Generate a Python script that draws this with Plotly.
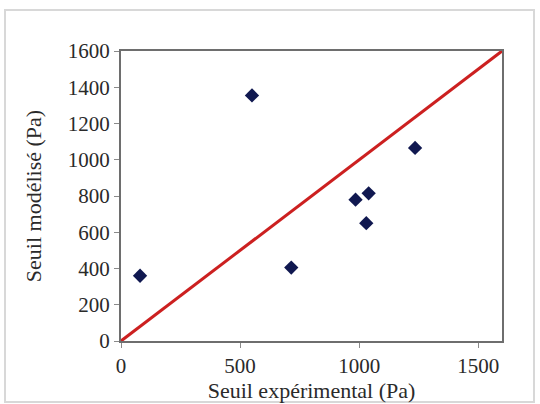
import plotly.graph_objects as go

# Data
seuil_exp = [80, 550, 715, 985, 1040, 1030, 1235]
seuil_mod = [360, 1355, 405, 780, 815, 650, 1065]
line_x = [0, 1600]
line_y = [0, 1600]
x_ticks = [0, 500, 1000, 1500]
y_ticks = [0, 200, 400, 600, 800, 1000, 1200, 1400, 1600]

font_family = "Liberation Serif"

fig = go.Figure()
fig.add_trace(go.Scatter(
    x=line_x, y=line_y, mode="lines",
    line=dict(color="#cc2020", width=3), showlegend=False, hoverinfo="skip"))
fig.add_trace(go.Scatter(
    x=seuil_exp, y=seuil_mod, mode="markers",
    marker=dict(symbol="diamond", size=11, color="#101850"),
    showlegend=False))

L, R, T, B = 121, 38, 51, 63
W, H = 540, 404
pw, ph = W - L - R, H - T - B

fig.add_shape(type="rect", xref="paper", yref="paper",
              x0=(5 - L) / pw, x1=(534 - L) / pw,
              y0=(H - B - 402) / ph, y1=(H - B - 10) / ph,
              line=dict(color="#d8d8d8", width=2), layer="below")

axis_common = dict(
    showgrid=False, zeroline=False, showline=True, mirror=True,
    linecolor="#6e6e6e", linewidth=2,
    ticks="outside", ticklen=5, tickcolor="#8a8a8a",
    tickfont=dict(family=font_family, size=21, color="#2a2a2a"),
)

fig.update_xaxes(range=[0, 1600], tickvals=x_ticks,
                 title=dict(text="Seuil expérimental (Pa)",
                            font=dict(family=font_family, size=22, color="#2a2a2a"),
                            standoff=0),
                 **axis_common)
fig.update_yaxes(range=[0, 1600], tickvals=y_ticks,
                 title=dict(text="Seuil modélisé (Pa)",
                            font=dict(family=font_family, size=22, color="#2a2a2a"),
                            standoff=20),
                 **axis_common)

fig.update_layout(
    width=W, height=H,
    margin=dict(l=L, r=R, t=T, b=B, autoexpand=False),
    plot_bgcolor="white", paper_bgcolor="white",
)

fig.write_html("out.html", config={"displayModeBar": False},
               post_script="document.body.style.margin='0';")
